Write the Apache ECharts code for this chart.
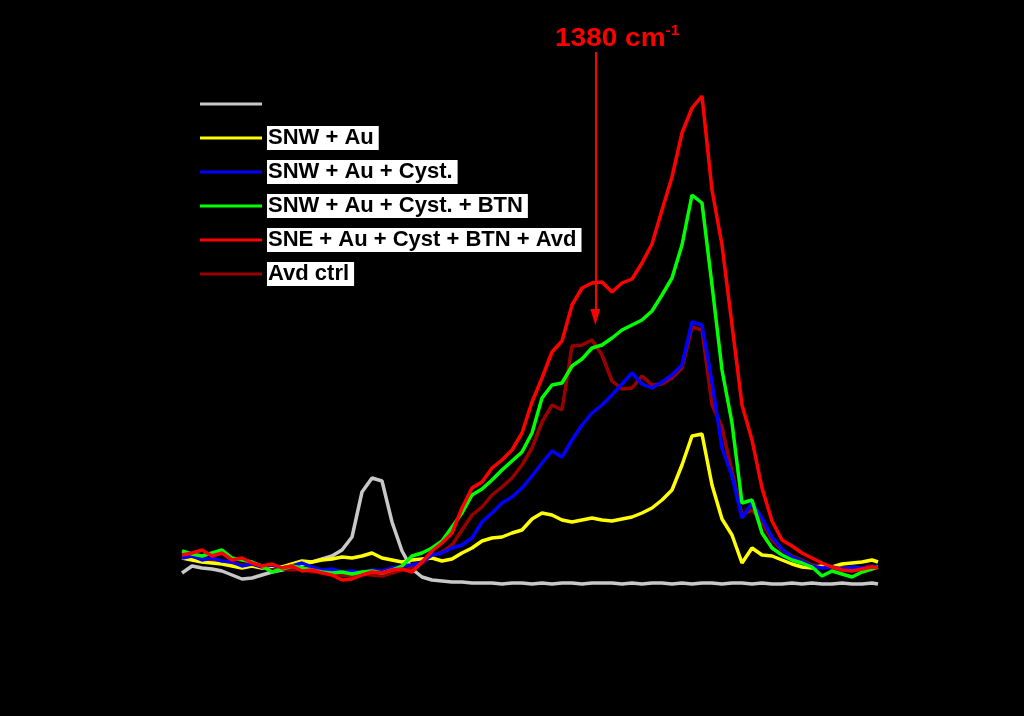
<!DOCTYPE html>
<html>
<head>
<meta charset="utf-8">
<script src="https://cdn.jsdelivr.net/npm/echarts@6/dist/echarts.min.js"></script>
<style>
  html, body { margin: 0; padding: 0; background: #000; }
  #chart { width: 1024px; height: 716px; }
</style>
</head>
<body>
<div id="chart"></div>
<script>
// Raman shift (cm-1)
var wavenumbers = [760,775,790,805,820,835,850,865,880,895,910,925,940,955,970,985,1000,1015,1030,1045,1060,1075,1090,1105,1120,1135,1150,1165,1180,1195,1210,1225,1240,1255,1270,1285,1300,1315,1330,1345,1360,1375,1390,1405,1420,1435,1450,1465,1480,1495,1510,1525,1540,1555,1570,1585,1600,1615,1630,1645,1660,1675,1690,1705,1720,1735,1750,1765,1780,1795,1804];

// Intensities (a.u.)
var snw = [27,34,32,31,29,25,21,22,25,28,30,32,35,38,41,44,50,63,108,122,119,78,49,31,23,20,19,18,18,17,17,17,16,17,17,16,17,16,17,17,16,17,17,17,16,17,16,17,17,16,17,16,17,17,16,17,17,16,17,16,16,17,16,17,16,16,17,16,16,17,16];
var snwAu = [42,40,38,37,36,34,32,34,32,34,33,36,39,38,40,41,43,42,44,47,42,40,38,40,41,42,39,41,47,52,59,62,63,67,70,81,87,85,80,78,80,82,80,79,81,83,87,92,100,110,135,164,166,115,81,65,37,52,45,44,40,36,33,32,34,33,36,37,38,40,38];
var snwAuCyst = [42,44,40,42,39,38,34,36,33,35,32,34,37,33,30,31,28,29,27,30,29,32,34,35,38,45,47,52,55,62,78,87,97,103,112,124,137,149,143,160,175,187,195,205,216,227,216,212,218,225,235,278,275,218,152,124,82,97,82,63,51,43,39,34,32,33,31,33,32,33,34];
var snwAuCystBtn = [49,46,44,47,50,42,40,38,34,28,31,34,32,30,28,27,28,26,28,29,27,30,34,44,47,52,59,73,87,105,111,120,130,139,148,167,202,215,217,234,241,252,255,262,270,275,280,289,305,322,355,405,397,315,230,177,97,100,67,52,45,40,37,33,24,29,26,23,28,31,33];
var sneAuCystBtnAvd = [45,47,50,44,47,40,42,37,34,36,32,34,29,30,27,25,20,21,25,28,27,30,31,28,38,49,57,67,92,112,118,132,140,150,167,198,222,248,259,295,312,317,318,308,317,321,337,356,390,423,467,492,504,410,355,275,195,160,112,79,60,54,47,42,37,33,30,29,31,33,32];
var avdCtrl = [44,42,43,40,38,37,35,34,32,33,31,30,31,28,29,26,25,24,26,25,24,27,30,32,37,44,48,55,70,85,93,105,113,122,135,152,178,195,190,254,255,260,245,219,211,212,224,215,216,222,232,273,270,195,173,128,85,90,78,60,50,44,40,35,34,32,33,30,32,34,33];

var seriesNames = ['SNW', 'SNW + Au', 'SNW + Au + Cyst.', 'SNW + Au + Cyst. + BTN', 'SNE + Au + Cyst + BTN + Avd', 'Avd ctrl'];
var seriesColors = ['#c8c8c8', '#ffff00', '#0000ff', '#00ff00', '#ff0000', '#990000'];
var seriesValues = [snw, snwAu, snwAuCyst, snwAuCystBtn, sneAuCystBtnAvd, avdCtrl];

var peakPosition = 1380;
var arrowTop = 548, arrowBottom = 283;

function pairs(vals) {
  return wavenumbers.map(function (x, i) { return [x, vals[i]]; });
}

// drawing order (bottom to top)
var drawOrder = [0, 5, 1, 2, 3, 4];

var series = drawOrder.map(function (k) {
  var s = {
    name: seriesNames[k],
    type: 'line',
    data: pairs(seriesValues[k]),
    showSymbol: false,
    symbol: 'none',
    smooth: false,
    lineStyle: { color: seriesColors[k], width: 3.5 },
    itemStyle: { color: seriesColors[k] },
    silent: true
  };
  if (k === 4) {
    s.markLine = {
      silent: true,
      symbol: ['none', 'triangle'],
      symbolSize: [10, 16],
      label: { show: false },
      lineStyle: { color: '#ff0000', width: 2, type: 'solid' },
      data: [[{ coord: [peakPosition, arrowTop] }, { coord: [peakPosition, arrowBottom] }]]
    };
  }
  return s;
});

var legendData = seriesNames.map(function (n, i) {
  if (i === 0) {
    return { name: n, textStyle: { backgroundColor: 'transparent', color: '#000' } };
  }
  return { name: n };
});

var chart = echarts.init(document.getElementById('chart'));
chart.setOption({
  backgroundColor: '#000',
  animation: false,
  grid: { left: 182, right: 146, top: 0, bottom: 116 },
  xAxis: {
    type: 'value', min: 760, max: 1804,
    axisLine: { show: false }, axisTick: { show: false },
    axisLabel: { show: false }, splitLine: { show: false }
  },
  yAxis: {
    type: 'value', min: 0, max: 600,
    axisLine: { show: false }, axisTick: { show: false },
    axisLabel: { show: false }, splitLine: { show: false }
  },
  legend: {
    orient: 'vertical',
    left: 200,
    top: 92,
    padding: 0,
    itemWidth: 62,
    itemHeight: 3,
    itemGap: 10,
    icon: 'rect',
    selectedMode: false,
    data: legendData,
    textStyle: {
      fontFamily: 'Liberation Sans, Arial, sans-serif',
      fontWeight: 'bold',
      fontSize: 22,
      lineHeight: 22,
      color: '#000',
      backgroundColor: '#fff',
      padding: [1, 5, 1, 1]
    }
  },
  graphic: [{
    type: 'text',
    left: 555,
    top: 24,
    scaleX: 1.12,
    style: {
      text: '{a|1380 cm}{b|-1}',
      rich: {
        a: { fontFamily: 'Liberation Sans, Arial, sans-serif', fontWeight: 'bold', fontSize: 25, lineHeight: 28, fill: '#ff0000', verticalAlign: 'bottom' },
        b: { fontFamily: 'Liberation Sans, Arial, sans-serif', fontWeight: 'bold', fontSize: 14, lineHeight: 28, fill: '#ff0000', verticalAlign: 'top' }
      }
    }
  }],
  series: series
});
</script>
</body>
</html>
